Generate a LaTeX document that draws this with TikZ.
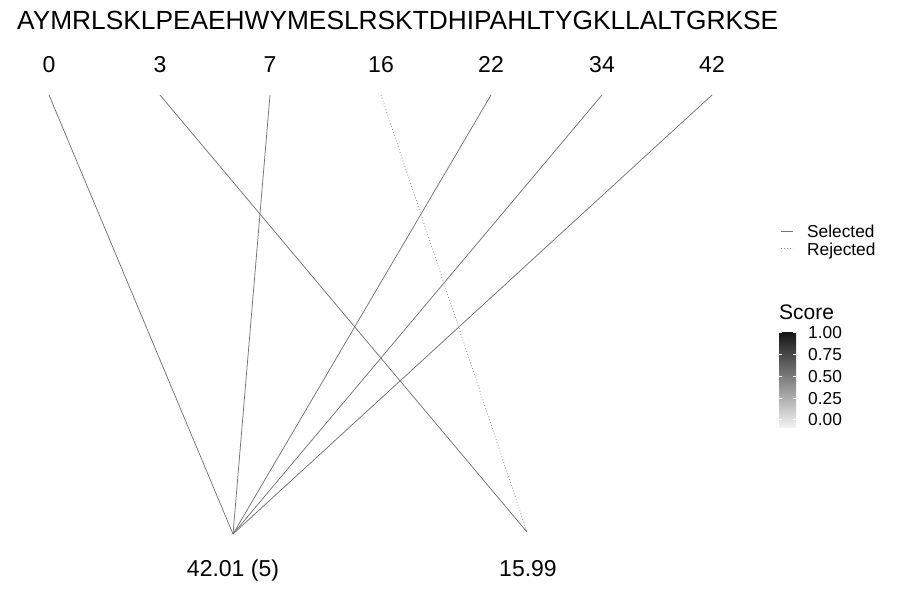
\documentclass[tikz,border=0pt]{standalone}
\usepackage{fontspec}
\setmainfont{Liberation Sans}
\begin{document}
\begin{tikzpicture}[x=1pt,y=-1pt,
  lbl/.style={inner sep=0pt,anchor=base,font=\fontsize{23}{23}\selectfont},
  seq/.style={inner sep=0pt,anchor=base west,font=\fontsize{26.3}{26.3}\selectfont},
  leg/.style={inner sep=0pt,anchor=base west,font=\fontsize{17.3}{17.3}\selectfont},
  conn/.style={draw=black!55,line width=0.75pt},
  rej/.style={draw=black!45,line width=0.8pt,dash pattern=on 0.8pt off 2.2pt}]
\useasboundingbox (0,0) rectangle (900,600);
\node[seq] (seqtxt) at (17,29.5) {AYMRLSKLPEAEHWYMESLRSKTDHIPAHLTYGKLLALTGRKSE};
\foreach \n/\x in {0/49,3/160,7/270,16/381,22/491,34/602,42/712}{
  \node[lbl] (l\n) at (\x,72) {\n};
  \coordinate (t\n) at (\x,95);
}
\coordinate (A) at (233,534);
\coordinate (B) at (527,532);
\node[lbl] (la) at (233,576) {42.01 (5)};
\node[lbl] (lb) at (528,576) {15.99};
\draw[conn] (t0) -- (A);
\draw[conn] (t7) -- (A);
\draw[conn] (t22) -- (A);
\draw[conn] (t34) -- (A);
\draw[conn] (t42) -- (A);
\draw[conn] (t3) -- (B);
\draw[rej] (t16) -- (B);
% legend
\coordinate (s1) at (781,231); \coordinate (s2) at (793,231);
\draw[conn] (s1) -- (s2);
\node[leg] (sel) at (807,237) {Selected};
\coordinate (r1) at (781,248); \coordinate (r2) at (793,248);
\draw[rej] (r1) -- (r2);
\node[leg] (rejt) at (807,255) {Rejected};
\node[leg,font=\fontsize{21}{21}\selectfont] (score) at (779,319) {Score};
\shade[top color=black!92,bottom color=black!5] (779,332) rectangle (796,427);
\foreach \v/\y in {1.00/332,0.75/354,0.50/376,0.25/398,0.00/419}{
  \draw[white,line width=0.5pt] (779,\y) -- (782,\y) (793,\y) -- (796,\y);
  \node[leg,anchor=west] at (808,\y+0.5) {\v};
}
\end{tikzpicture}
\end{document}
